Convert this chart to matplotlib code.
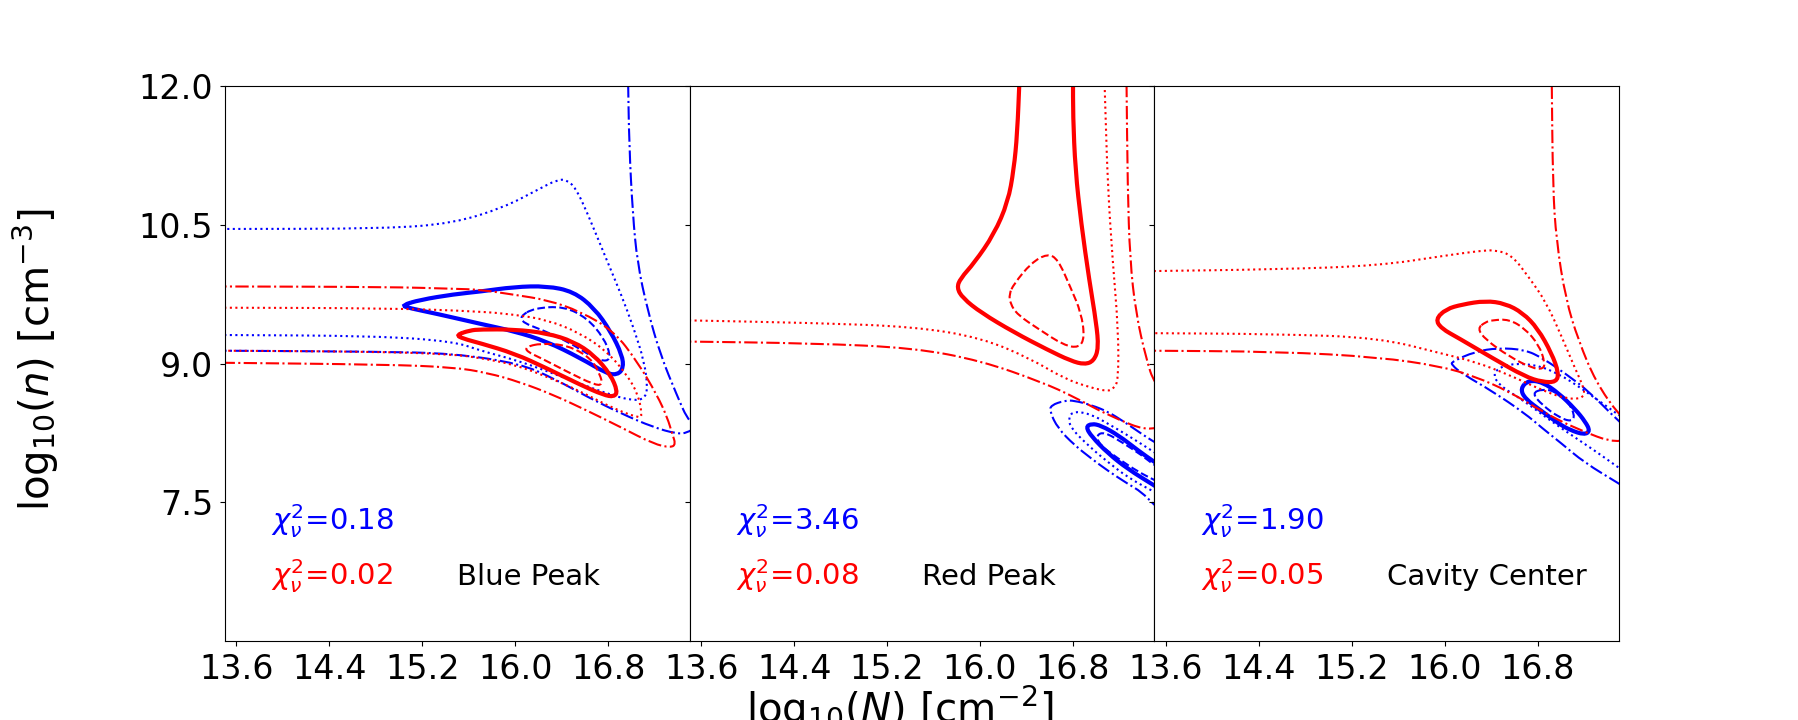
import matplotlib
matplotlib.use("Agg")
import matplotlib.pyplot as plt
from matplotlib.path import Path
from matplotlib.patches import PathPatch

# ── Contour traces: (log10 N, log10 n) ──────────────────────────────
# Panel 1: Blue Peak
bp_blue_solid = [(15.02, 9.63), (15.18, 9.69), (15.47, 9.75), (15.70, 9.78), (15.99, 9.83),
                 (16.27, 9.84), (16.50, 9.78), (16.68, 9.60), (16.82, 9.35), (16.92, 9.09),
                 (16.93, 8.95), (16.88, 8.88), (16.79, 8.89), (16.56, 9.06), (16.27, 9.24),
                 (15.99, 9.35), (15.70, 9.43), (15.32, 9.54), (15.09, 9.60), (15.02, 9.63)]
bp_blue_dashed = [(16.04, 9.51), (16.16, 9.60), (16.42, 9.62), (16.62, 9.49), (16.76, 9.28),
                  (16.82, 9.09), (16.79, 9.02), (16.68, 9.06), (16.45, 9.24), (16.22, 9.37),
                  (16.07, 9.44), (16.04, 9.51)]
bp_blue_dotted = [(13.4, 9.31), (14.8, 9.30), (15.47, 9.24), (15.70, 9.14), (16.0, 9.04),
                  (16.27, 8.92), (16.56, 8.78), (16.85, 8.65), (17.02, 8.60), (17.11, 8.62),
                  (17.14, 8.73), (17.11, 9.02), (17.02, 9.38), (16.91, 9.75), (16.79, 10.11),
                  (16.62, 10.63), (16.52, 10.90), (16.44, 10.99), (16.36, 10.99), (16.19, 10.88),
                  (15.90, 10.69), (15.47, 10.52), (14.89, 10.46), (13.4, 10.457)]
bp_blue_dashdot = [(13.4, 9.14), (14.8, 9.13), (15.47, 9.11), (16.04, 9.0), (16.33, 8.84),
                   (16.62, 8.64), (16.91, 8.46), (17.19, 8.31), (17.39, 8.24), (17.48, 8.25),
                   (17.56, 8.32), (17.48, 8.40), (17.39, 8.66), (17.25, 9.09), (17.14, 9.57),
                   (17.05, 10.09), (17.01, 10.63), (16.98, 11.36), (16.97, 12.1)]
bp_red_solid = [(15.49, 9.31), (15.61, 9.36), (15.70, 9.37), (15.99, 9.37), (16.27, 9.33),
                (16.50, 9.24), (16.68, 9.09), (16.82, 8.88), (16.88, 8.70), (16.85, 8.64),
                (16.76, 8.66), (16.56, 8.77), (16.27, 8.95), (15.99, 9.11), (15.70, 9.22),
                (15.55, 9.27), (15.49, 9.31)]
bp_red_dashed = [(16.09, 9.18), (16.22, 9.22), (16.45, 9.20), (16.65, 9.06), (16.73, 8.88),
                 (16.75, 8.77), (16.68, 8.77), (16.45, 8.91), (16.22, 9.06), (16.10, 9.13),
                 (16.09, 9.18)]
bp_red_dotted = [(13.4, 9.605), (14.9, 9.60), (15.70, 9.565), (15.99, 9.53), (16.27, 9.475),
                 (16.56, 9.33), (16.79, 9.13), (16.96, 8.88), (17.06, 8.66), (17.09, 8.44),
                 (17.07, 8.41), (16.85, 8.51), (16.56, 8.70), (16.27, 8.86), (15.99, 8.99),
                 (15.70, 9.06), (15.47, 9.10), (14.8, 9.13), (13.4, 9.14)]
bp_red_dashdot = [(13.4, 9.835), (14.9, 9.83), (15.47, 9.81), (15.70, 9.80), (15.99, 9.745),
                  (16.27, 9.69), (16.56, 9.565), (16.85, 9.35), (17.05, 9.02), (17.22, 8.66),
                  (17.31, 8.41), (17.35, 8.24), (17.38, 8.13), (17.34, 8.09), (17.19, 8.13),
                  (16.91, 8.31), (16.62, 8.49), (16.33, 8.66), (16.04, 8.80), (15.76, 8.90),
                  (15.47, 8.96), (14.89, 8.99), (13.4, 9.01)]

# Panel 2: Red Peak
rp_blue_solid = [(17.55, 7.90), (17.50, 7.935), (17.36, 8.06), (17.19, 8.225), (17.04, 8.33),
                 (16.96, 8.35), (16.91, 8.315), (16.96, 8.21), (17.10, 8.03), (17.27, 7.86),
                 (17.50, 7.68), (17.55, 7.64)]
rp_blue_dashed = [(17.55, 7.87), (17.50, 7.90), (17.39, 8.01), (17.22, 8.15), (17.07, 8.26),
                  (17.0, 8.225), (17.03, 8.12), (17.19, 7.97), (17.36, 7.83), (17.50, 7.74),
                  (17.55, 7.71)]
rp_blue_dotted = [(17.55, 8.0), (17.50, 8.04), (17.27, 8.225), (17.10, 8.35), (16.96, 8.45),
                  (16.81, 8.486), (16.76, 8.42), (16.78, 8.30), (16.96, 8.08), (17.10, 7.935),
                  (17.27, 7.77), (17.47, 7.63), (17.55, 7.58)]
rp_blue_dashdot = [(17.55, 8.12), (17.50, 8.15), (17.39, 8.24), (17.24, 8.37), (17.10, 8.48),
                   (16.96, 8.55), (16.81, 8.60), (16.73, 8.60), (16.61, 8.55), (16.60, 8.48),
                   (16.67, 8.30), (16.81, 8.12), (16.96, 7.97), (17.10, 7.84), (17.27, 7.70),
                   (17.39, 7.61), (17.50, 7.47), (17.55, 7.42)]
rp_red_solid = [(16.34, 12.1), (16.32, 11.49), (16.29, 11.10), (16.24, 10.75), (16.12, 10.40),
                (15.95, 10.09), (15.83, 9.92), (15.80, 9.82), (15.85, 9.71), (16.01, 9.55),
                (16.29, 9.34), (16.58, 9.15), (16.78, 9.03), (16.90, 8.99), (16.98, 9.03),
                (17.02, 9.17), (17.0, 9.44), (16.94, 9.90), (16.87, 10.52), (16.82, 11.10),
                (16.80, 11.68), (16.80, 12.1)]
rp_red_dashed = [(16.25, 9.75), (16.29, 9.86), (16.44, 10.09), (16.58, 10.19), (16.67, 10.13),
                 (16.78, 9.82), (16.87, 9.55), (16.90, 9.28), (16.85, 9.17), (16.72, 9.20),
                 (16.52, 9.36), (16.32, 9.53), (16.26, 9.65), (16.25, 9.75)]
rp_red_dotted = [(13.4, 9.47), (14.57, 9.44), (15.43, 9.40), (16.01, 9.28), (16.44, 9.05),
                 (16.72, 8.84), (16.95, 8.74), (17.10, 8.70), (17.15, 8.73), (17.19, 8.82),
                 (17.19, 9.36), (17.14, 10.13), (17.10, 10.91), (17.08, 11.68), (17.07, 12.1)]
rp_red_dashdot = [(13.4, 9.24), (14.57, 9.22), (15.43, 9.17), (16.01, 9.03), (16.53, 8.80),
                  (16.81, 8.64), (17.10, 8.44), (17.50, 8.24), (17.7, 8.5), (17.50, 8.78),
                  (17.43, 9.05), (17.34, 9.55), (17.29, 10.13), (17.27, 10.91), (17.26, 12.1)]

# Panel 3: Cavity Center
cc_blue_solid = [(16.65, 8.73), (16.72, 8.82), (16.84, 8.80), (16.98, 8.68), (17.12, 8.51),
                 (17.21, 8.37), (17.25, 8.27), (17.20, 8.23), (17.08, 8.28), (16.98, 8.35),
                 (16.84, 8.48), (16.69, 8.62), (16.65, 8.73)]
cc_blue_dashed = [(16.75, 8.68), (16.84, 8.725), (16.95, 8.70), (17.06, 8.59), (17.12, 8.44),
                  (17.09, 8.37), (16.98, 8.42), (16.84, 8.55), (16.75, 8.68)]
cc_blue_dotted = [(17.55, 8.40), (17.50, 8.44), (17.18, 8.73), (16.98, 8.89), (16.78, 8.99),
                  (16.55, 9.0), (16.41, 8.91), (16.46, 8.77), (16.69, 8.59), (16.92, 8.37),
                  (17.30, 8.05), (17.50, 7.87), (17.55, 7.83)]
cc_blue_dashdot = [(17.55, 8.33), (17.50, 8.37), (17.24, 8.70), (17.04, 8.89), (16.84, 9.06),
                   (16.69, 9.15), (16.46, 9.17), (16.26, 9.13), (16.06, 9.02), (16.06, 8.985),
                   (16.15, 8.89), (16.41, 8.70), (16.69, 8.46), (16.84, 8.30), (17.0, 8.14),
                   (17.2, 7.93), (17.50, 7.70), (17.55, 7.66)]
cc_red_solid = [(15.92, 9.48), (16.01, 9.59), (16.15, 9.64), (16.35, 9.68), (16.52, 9.65),
                (16.67, 9.55), (16.80, 9.38), (16.92, 9.11), (16.98, 8.90), (16.96, 8.80),
                (16.84, 8.80), (16.69, 8.86), (16.41, 9.06), (16.12, 9.275), (15.97, 9.38),
                (15.92, 9.48)]
cc_red_dashed = [(16.28, 9.38), (16.35, 9.45), (16.41, 9.47), (16.55, 9.48), (16.69, 9.38),
                 (16.81, 9.20), (16.86, 9.02), (16.85, 8.94), (16.75, 8.95), (16.55, 9.08),
                 (16.35, 9.26), (16.28, 9.38)]
cc_red_dotted = [(13.4, 10.0), (14.57, 10.02), (15.43, 10.06), (16.01, 10.17), (16.30, 10.22),
                 (16.44, 10.23), (16.58, 10.17), (16.72, 9.94), (16.87, 9.67), (17.01, 9.28),
                 (17.12, 8.95), (17.21, 8.70), (17.18, 8.62), (17.04, 8.62), (16.84, 8.71),
                 (16.55, 8.88), (16.26, 9.02), (15.97, 9.11), (15.43, 9.28), (14.57, 9.32),
                 (13.4, 9.33)]
cc_red_dashdot = [(13.4, 9.14), (14.57, 9.13), (15.43, 9.07), (15.97, 8.97), (16.26, 8.86),
                  (16.55, 8.70), (16.84, 8.48), (17.12, 8.30), (17.50, 8.12), (17.65, 8.28),
                  (17.50, 8.44), (17.30, 8.80), (17.15, 9.25), (17.04, 9.70), (16.96, 10.33),
                  (16.93, 10.91), (16.92, 12.1)]

panel_names = ["Blue Peak", "Red Peak", "Cavity Center"]
chi2_blue = ["0.18", "3.46", "1.90"]
chi2_red = ["0.02", "0.08", "0.05"]

panels = [
    {"blue": [bp_blue_solid, bp_blue_dashed, bp_blue_dotted, bp_blue_dashdot],
     "red": [bp_red_solid, bp_red_dashed, bp_red_dotted, bp_red_dashdot]},
    {"blue": [rp_blue_solid, rp_blue_dashed, rp_blue_dotted, rp_blue_dashdot],
     "red": [rp_red_solid, rp_red_dashed, rp_red_dotted, rp_red_dashdot]},
    {"blue": [cc_blue_solid, cc_blue_dashed, cc_blue_dotted, cc_blue_dashdot],
     "red": [cc_red_solid, cc_red_dashed, cc_red_dotted, cc_red_dashdot]},
]

styles = [("-", 3.0), ("--", 1.5), (":", 1.5), ("-.", 1.5)]


def smooth_path(pts):
    # quadratic bezier through mid-points, traced points act as control points
    mid = lambda a, b: ((a[0] + b[0]) / 2, (a[1] + b[1]) / 2)
    closed = pts[0] == pts[-1]
    if closed:
        p = pts[:-1]
        n = len(p)
        verts = [mid(p[0], p[1])]
        codes = [Path.MOVETO]
        for k in range(1, n + 1):
            c = p[k % n]
            verts += [c, mid(c, p[(k + 1) % n])]
            codes += [Path.CURVE3, Path.CURVE3]
        return Path(verts, codes)
    verts = [pts[0], mid(pts[0], pts[1])]
    codes = [Path.MOVETO, Path.LINETO]
    for k in range(1, len(pts) - 1):
        verts += [pts[k], mid(pts[k], pts[k + 1])]
        codes += [Path.CURVE3, Path.CURVE3]
    verts.append(pts[-1])
    codes.append(Path.LINETO)
    return Path(verts, codes)


fig, axes = plt.subplots(1, 3, sharey=True, figsize=(17.99, 7.2), dpi=100)
plt.subplots_adjust(left=0.125, right=0.9, bottom=0.11, top=0.88, wspace=0)

for i, ax in enumerate(axes):
    for color in ["blue", "red"]:
        for curve, (ls, lw) in zip(panels[i][color], styles):
            ax.add_patch(PathPatch(smooth_path(curve), facecolor="none", edgecolor=color,
                                   linestyle=ls, linewidth=lw, capstyle="butt"))

    ax.set_xlim(13.5, 17.5)
    ax.set_ylim(6.0, 12.0)
    ax.set_xticks([13.6, 14.4, 15.2, 16.0, 16.8])
    ax.set_xticklabels(["13.6", "14.4", "15.2", "16.0", "16.8"])
    ax.tick_params(labelsize=24, pad=5)

    ax.text(0.1, 0.2, r"$\chi^2_\nu$=" + chi2_blue[i], color="blue",
            fontsize=21, transform=ax.transAxes)
    ax.text(0.1, 0.1, r"$\chi^2_\nu$=" + chi2_red[i], color="red",
            fontsize=21, transform=ax.transAxes)
    ax.text(0.5, 0.1, panel_names[i], color="black",
            fontsize=21, transform=ax.transAxes)

axes[0].set_yticks([7.5, 9.0, 10.5, 12.0])
axes[0].set_yticklabels(["7.5", "9.0", "10.5", "12.0"])

fig.text(0.5, -0.004, r"log$_{10}$($N$) [cm$^{-2}$]", ha="center", va="baseline", fontsize=29)
fig.text(0.02, 0.5, r"log$_{10}$($n$) [cm$^{-3}$]", ha="center", va="center",
         rotation=90, fontsize=29)

plt.savefig("out.png", dpi=100)
